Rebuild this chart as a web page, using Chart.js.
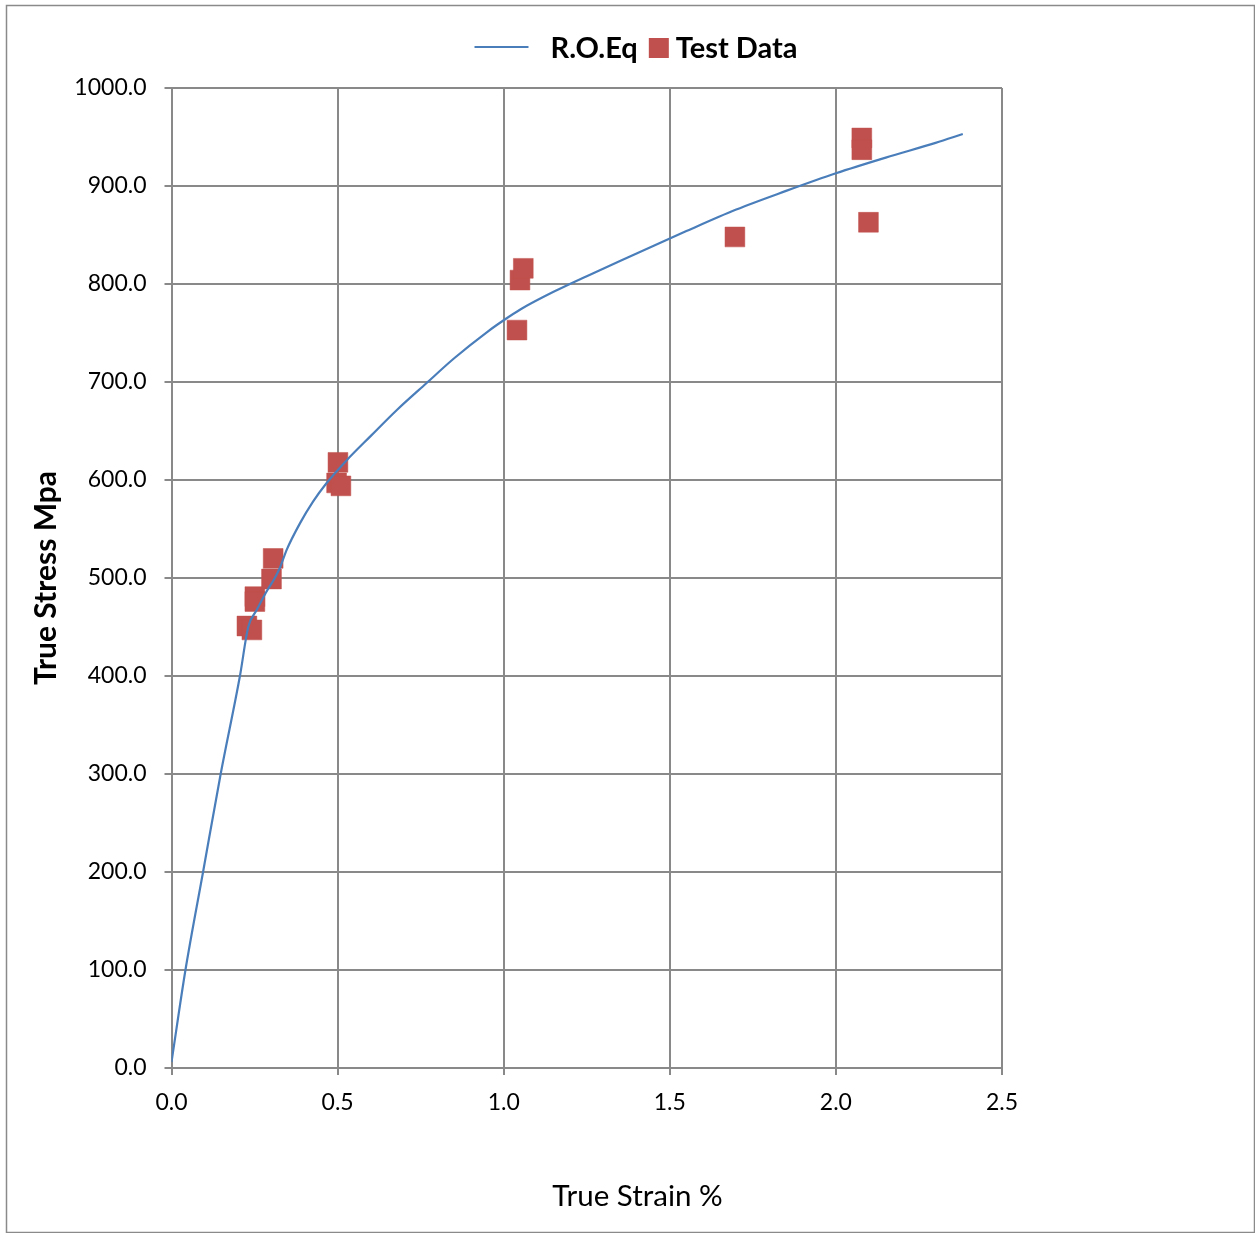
<!DOCTYPE html>
<html><head><meta charset="utf-8">
<script src="https://cdn.jsdelivr.net/npm/chart.js@4.4.1/dist/chart.umd.min.js"></script>
<style>html,body{margin:0;padding:0;background:#fff;overflow:hidden}</style>
</head><body>
<canvas id="c" width="1255" height="1233"></canvas>
<script>
// ---- data ----
const curveStrain = [0, 0.042, 0.095, 0.148, 0.206, 0.231, 0.256, 0.284, 0.311, 0.327, 0.347, 0.387, 0.426, 0.467, 0.527, 0.600, 0.680, 0.768, 0.850, 0.950, 1.000, 1.050, 1.150, 1.250, 1.400, 1.550, 1.700, 1.850, 2.000, 2.150, 2.300, 2.382];
const curveStress = [6, 100, 200, 300, 400, 450, 467, 485, 500, 511, 529, 556, 578, 597, 620, 645, 672, 699, 724, 751, 763, 774, 792, 808, 831, 854, 876, 895, 913, 929, 944, 953];
const testStrain = [0.227, 0.242, 0.251, 0.251, 0.301, 0.306, 0.497, 0.501, 0.510, 1.040, 1.049, 1.059, 1.696, 2.078, 2.078, 2.098];
const testStress = [451, 447, 481, 476, 499, 520, 597, 618, 594, 753, 804, 816, 848, 949, 937, 863];
const seriesNames = ['R.O.Eq', 'Test Data'];
const xTitle = 'True Strain %';
const yTitle = 'True Stress Mpa';
const xRange = [0, 2.5], xStep = 0.5;
const yRange = [0, 1000], yStep = 100;

const lineColor = '#4a7ebb';
const markColor = '#c0504d';
const gridColor = '#898989';
const FONT = 'Lato';

const decorPlugin = {
  id: 'decor',
  beforeDraw(chart) {
    const ctx = chart.ctx;
    ctx.save();
    ctx.fillStyle = '#fff';
    ctx.fillRect(0, 0, chart.width, chart.height);
    ctx.restore();
  },
  afterDraw(chart) {
    const ctx = chart.ctx;
    ctx.save();
    // outer frame
    ctx.strokeStyle = '#8a8a8a';
    ctx.lineWidth = 1.5;
    ctx.strokeRect(6.5, 5.5, 1248, 1227);
    // legend
    ctx.font = 'bold 29px ' + FONT;
    ctx.textBaseline = 'middle';
    ctx.textAlign = 'left';
    const w1 = ctx.measureText(seriesNames[0]).width;
    const w2 = ctx.measureText(seriesNames[1]).width;
    const total = 54 + 22 + w1 + 11 + 20 + 7 + w2;
    let x = 636 - total / 2;
    const y = 47;
    ctx.strokeStyle = lineColor;
    ctx.lineWidth = 2;
    ctx.beginPath(); ctx.moveTo(x, y); ctx.lineTo(x + 54, y); ctx.stroke();
    x += 54 + 22;
    ctx.fillStyle = '#000';
    ctx.fillText(seriesNames[0], x, y + 2);
    x += w1 + 11;
    ctx.fillStyle = markColor;
    ctx.fillRect(x, y - 9, 20, 20);
    x += 20 + 7;
    ctx.fillStyle = '#000';
    ctx.fillText(seriesNames[1], x, y + 2);
    // x axis title
    ctx.font = '29.5px ' + FONT;
    ctx.textAlign = 'center';
    ctx.fillText(xTitle, 637.5, 1196);
    ctx.restore();
  }
};

new Chart(document.getElementById('c'), {
  type: 'scatter',
  data: {
    datasets: [
      {
        type: 'line',
        label: seriesNames[0],
        data: curveStrain.map((v, i) => ({x: v, y: curveStress[i]})),
        borderColor: lineColor,
        borderWidth: 2.2,
        pointRadius: 0,
        fill: false,
        cubicInterpolationMode: 'monotone'
      },
      {
        type: 'scatter',
        label: seriesNames[1],
        data: testStrain.map((v, i) => ({x: v, y: testStress[i]})),
        pointStyle: 'rect',
        pointRadius: 14,
        backgroundColor: markColor,
        borderColor: markColor,
        borderWidth: 0.5
      }
    ]
  },
  options: {
    responsive: false,
    animation: false,
    layout: {padding: {left: 0, top: 88, right: 253, bottom: 0}},
    plugins: {legend: {display: false}, tooltip: {enabled: false}},
    scales: {
      x: {
        type: 'linear',
        min: xRange[0], max: xRange[1],
        afterFit: s => { s.height = 165; },
        ticks: {stepSize: xStep, padding: 14, color: '#000', font: {family: FONT, size: 23},
          callback: v => Number(v).toFixed(1)},
        grid: {color: gridColor, lineWidth: 2, tickLength: 7},
        border: {color: gridColor, width: 2},
        title: {display: false}
      },
      y: {
        type: 'linear',
        min: yRange[0], max: yRange[1],
        afterFit: s => { s.width = 171.5; },
        ticks: {stepSize: yStep, padding: 18, color: '#000', font: {family: FONT, size: 23},
          callback: v => Number(v).toFixed(1)},
        grid: {color: gridColor, lineWidth: 2, tickLength: 7},
        border: {color: gridColor, width: 2},
        title: {display: true, text: yTitle, color: '#000', padding: {top: 28, bottom: 0},
          font: {family: FONT, size: 30, weight: 'bold'}}
      }
    }
  },
  plugins: [decorPlugin]
});
</script>
</body></html>
